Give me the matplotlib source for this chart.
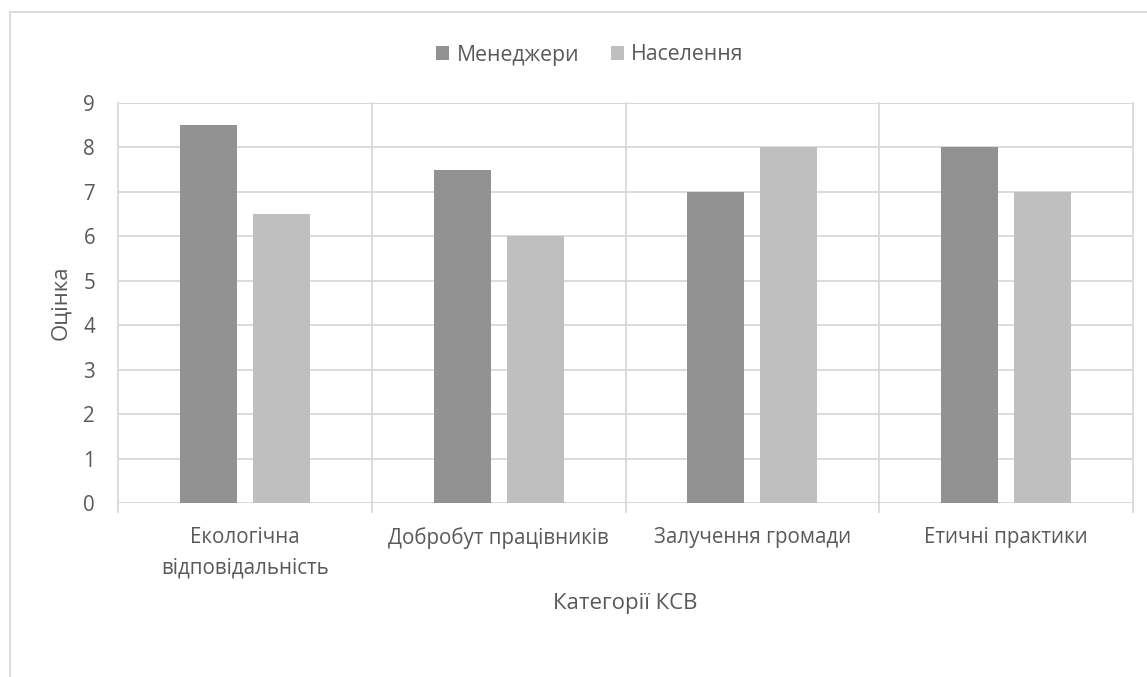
import matplotlib
matplotlib.use("Agg")
import matplotlib.pyplot as plt
from matplotlib.patches import Rectangle
import numpy as np

categories = ["Екологічна\nвідповідальність", "Добробут працівників",
              "Залучення громади", "Етичні практики"]
managers = [8.5, 7.5, 7.0, 8.0]
population = [6.5, 6.0, 8.0, 7.0]
series_names = ["Менеджери", "Населення"]
y_ticks = list(range(0, 10))

TEXT = "#595959"
GRID = "#d9d9d9"
C_MAN = "#929292"
C_POP = "#bfbfbf"

plt.rcParams["font.family"] = ["Open Sans", "DejaVu Sans"]

W, H = 1147, 677
fig = plt.figure(figsize=(W / 100, H / 100), dpi=100)

# outer chart frame
fig.patches.append(Rectangle((10 / W, -0.1), 1.2, 1 - 12 / H + 0.1,
                             transform=fig.transFigure, fill=False,
                             edgecolor=GRID, linewidth=1.3))

left, right, top, bottom = 118, 1133, 103, 503
ax = fig.add_axes([left / W, 1 - bottom / H, (right - left) / W, (bottom - top) / H])

x = np.arange(len(categories))
bw = 0.225
off = 0.144
ax.bar(x - off, managers, bw, color=C_MAN, label=series_names[0], zorder=3)
ax.bar(x + off, population, bw, color=C_POP, label=series_names[1], zorder=3)

ax.set_xlim(-0.5, len(categories) - 0.5)
ax.set_ylim(0, 9)
ax.set_yticks(y_ticks)
ax.set_xticks(x)
ax.set_xticklabels(categories, fontsize=14.8, color=TEXT, linespacing=1.55)
ax.tick_params(axis="y", length=0, labelsize=14.8, labelcolor=TEXT, pad=16.5)
ax.tick_params(axis="x", length=0, pad=17.5)

# horizontal gridlines and vertical category dividers
ax.grid(axis="y", color=GRID, linewidth=1.3, zorder=0)
for b in np.arange(-0.5, len(categories), 1.0):
    ax.plot([b, b], [0, 9], color=GRID, linewidth=1.3, zorder=1, clip_on=False)
    ax.plot([b, b], [0, -0.2], color=GRID, linewidth=1.3, zorder=1, clip_on=False)
for s in ax.spines.values():
    s.set_visible(False)
ax.axhline(9, color=GRID, linewidth=1.3, zorder=1)
ax.axhline(0, color=GRID, linewidth=1.3, zorder=1)

ax.set_ylabel("Оцінка", fontsize=16, color=TEXT)
ax.yaxis.label.set_va("center")
ax.yaxis.set_label_coords((61 - left) / (right - left), 0.5)
ax.set_xlabel("Категорії КСВ", fontsize=16, color=TEXT)
ax.xaxis.label.set_va("center")
ax.xaxis.set_label_coords(0.5, -(604 - bottom) / (bottom - top))

leg = fig.legend(loc="center", bbox_to_anchor=(590 / W, 1 - 55 / H), ncol=2,
                 frameon=False, fontsize=15.3, handlelength=0.6, handleheight=0.6,
                 handletextpad=0.35, columnspacing=1.5, labelcolor=TEXT)

fig.savefig("out.png", dpi=100, facecolor="white")
